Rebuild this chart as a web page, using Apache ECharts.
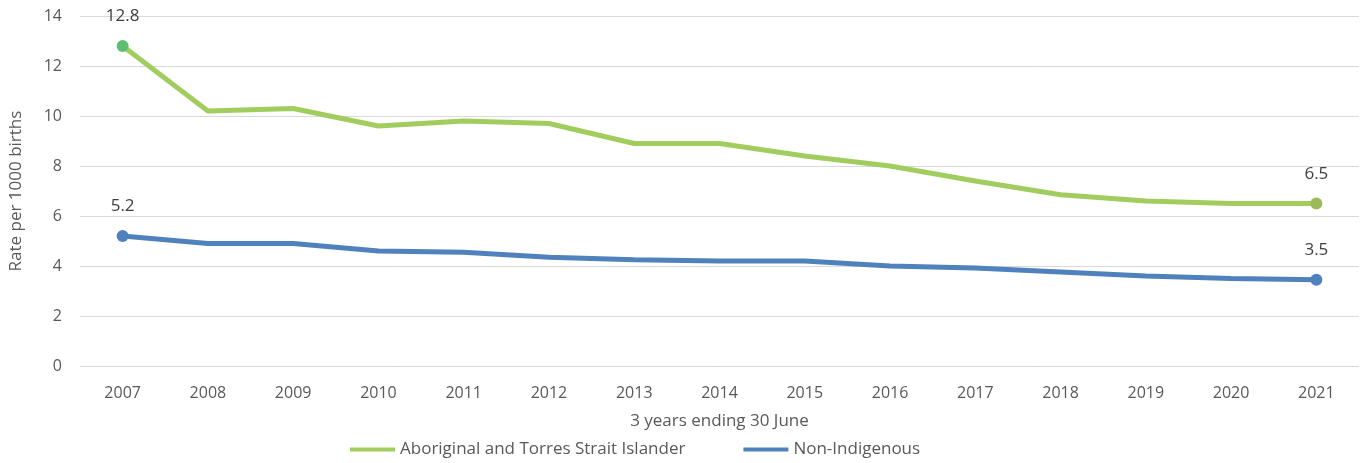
<!DOCTYPE html>
<html>
<head>
	<meta charset="utf-8">
	<title>Rate per 1000 births</title>
	<script src="https://cdn.jsdelivr.net/npm/echarts@6/dist/echarts.min.js"></script>
	<style>
		html, body { margin: 0; padding: 0; background: #fff; }
	</style>
</head>
<body>
	<div id="main" style="width: 1364px;height:463px;"></div>

	<script type="text/javascript">
		var years = ['2007', '2008', '2009', '2010', '2011', '2012', '2013', '2014', '2015', '2016', '2017', '2018', '2019', '2020', '2021'];
		var aboriginal = [12.8, 10.2, 10.3, 9.6, 9.8, 9.7, 8.9, 8.9, 8.4, 8.0, 7.4, 6.85, 6.6, 6.5, 6.5];
		var nonIndigenous = [5.2, 4.9, 4.9, 4.6, 4.55, 4.35, 4.25, 4.2, 4.2, 4.0, 3.92, 3.76, 3.6, 3.5, 3.45];
		var labelText = { aboriginal: ['12.8', '6.5'], nonIndigenous: ['5.2', '3.5'] };

		var font = 'Open Sans';
		var textColor = '#595959';

		// only first and last point get a marker and a label
		function points(values, labels, firstColor, lastColor) {
			return values.map(function (v, i) {
				var ends = i === 0 || i === values.length - 1;
				if (!ends) return { value: v, symbol: 'none' };
				return {
					value: v,
					symbol: 'circle',
					symbolSize: 12,
					itemStyle: { color: i === 0 ? firstColor : lastColor },
					label: {
						show: true,
						position: 'top',
						distance: 15,
						formatter: i === 0 ? labels[0] : labels[1],
						color: '#404040',
						fontFamily: font,
						fontSize: 17
					}
				};
			});
		}

		var myChart = echarts.init(document.getElementById('main'));
		var option = {
			animation: false,
			grid: { left: 80, right: 5, top: 16, bottom: 97, containLabel: false },
			legend: {
				bottom: 0,
				left: 345,
				icon: 'rect',
				itemWidth: 45,
				itemHeight: 4,
				itemGap: 58,
				textStyle: { color: textColor, fontFamily: font, fontSize: 17 },
				data: ['Aboriginal and Torres Strait Islander', 'Non-Indigenous']
			},
			xAxis: {
				type: 'category',
				data: years,
				boundaryGap: true,
				name: '3 years ending 30 June',
				nameLocation: 'middle',
				nameGap: 47,
				nameTextStyle: { color: textColor, fontFamily: font, fontSize: 17 },
				axisLine: { show: false },
				axisTick: { show: false },
				axisLabel: { color: textColor, fontFamily: font, fontSize: 16, margin: 19 }
			},
			yAxis: {
				type: 'value',
				min: 0,
				max: 14,
				interval: 2,
				name: 'Rate per 1000 births',
				nameLocation: 'middle',
				nameGap: 55,
				nameTextStyle: { color: textColor, fontFamily: font, fontSize: 17 },
				axisLine: { show: false },
				axisTick: { show: false },
				axisLabel: { color: textColor, fontFamily: font, fontSize: 16, margin: 18 },
				splitLine: { lineStyle: { color: '#d9d9d9', width: 1 } }
			},
			series: [{
					name: 'Aboriginal and Torres Strait Islander',
					type: 'line',
					color: '#a0cd5e',
					lineStyle: { width: 5, color: '#a0cd5e' },
					data: points(aboriginal, labelText.aboriginal, '#5cbf72', '#9bbb59')
				},
				{
					name: 'Non-Indigenous',
					type: 'line',
					color: '#4f81bd',
					lineStyle: { width: 5, color: '#4f81bd' },
					data: points(nonIndigenous, labelText.nonIndigenous, '#4f81bd', '#4f81bd')
				}
			]
		};

		myChart.setOption(option);
	</script>
</body>
</html>
